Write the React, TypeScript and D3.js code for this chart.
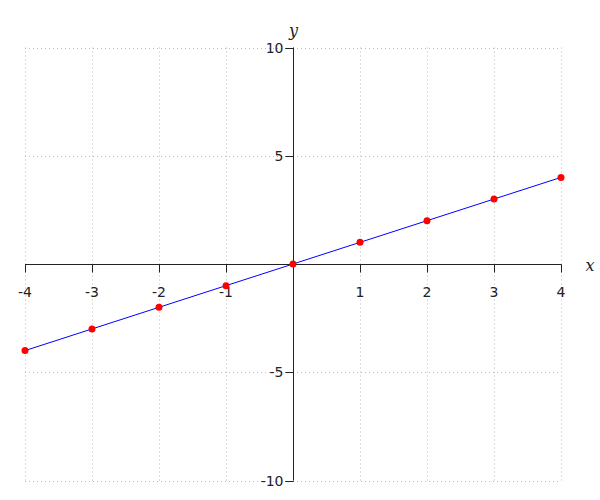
import React from "react";
import * as d3 from "d3";

const xValues = [-4, -3, -2, -1, 0, 1, 2, 3, 4];
const yValues = [-4, -3, -2, -1, 0, 1, 2, 3, 4];
const xTicks = [-4, -3, -2, -1, 1, 2, 3, 4];
const xGrid = [-4, -3, -2, -1, 0, 1, 2, 3, 4];
const yTicks = [-10, -5, 5, 10];
const yGrid = [-10, -5, 0, 5, 10];

export default function App() {
  const W = 600, H = 500;
  const x = d3.scaleLinear().domain([-4, 4]).range([25, 561]);
  const y = d3.scaleLinear().domain([-10, 10]).range([480.5, 47.5]);
  const x0 = Math.round(x(0)) + 0.5;
  const y0 = Math.round(y(0)) + 0.5;
  const pts = xValues.map((v, i) => [v, yValues[i]] as [number, number]);
  const line = d3.line<[number, number]>().x(d => x(d[0])).y(d => y(d[1]));
  const font = "'DejaVu Sans', sans-serif";
  return (
    <svg width={W} height={H} style={{ position: "fixed", left: 0, top: 0, background: "#fff" }}>
      <g stroke="#bbb" strokeWidth={1} strokeDasharray="1,3">
        {xGrid.map(v => (
          <line key={"gx" + v} x1={Math.round(x(v)) + 0.5} x2={Math.round(x(v)) + 0.5} y1={y(10)} y2={y(-10)} />
        ))}
        {yGrid.map(v => (
          <line key={"gy" + v} x1={x(-4)} x2={x(4)} y1={Math.round(y(v)) + 0.5} y2={Math.round(y(v)) + 0.5} />
        ))}
      </g>
      <g stroke="#222" strokeWidth={1}>
        <line x1={x(-4)} x2={x(4) + 0.5} y1={y0} y2={y0} />
        <line x1={x0} x2={x0} y1={y(10)} y2={y(-10)} />
        {xTicks.map(v => (
          <line key={"tx" + v} x1={Math.round(x(v)) + 0.5} x2={Math.round(x(v)) + 0.5} y1={y0} y2={y0 + 8} />
        ))}
        {yTicks.concat([10, -10]).map(v => (
          <line key={"ty" + v} x1={x0 - 8} x2={x0} y1={Math.round(y(v)) + 0.5} y2={Math.round(y(v)) + 0.5} />
        ))}
      </g>
      <g fontFamily={font} fontSize={14} fill="#222">
        {xTicks.map(v => (
          <text key={"lx" + v} x={x(v)} y={y0 + 32} textAnchor="middle">{v}</text>
        ))}
        {yTicks.map(v => (
          <text key={"ly" + v} x={x0 - 10} y={y(v) + 5} textAnchor="end">{v}</text>
        ))}
      </g>
      <text x={590} y={271} fontFamily="'DejaVu Serif', serif" fontStyle="italic" fontSize={16} fill="#222" textAnchor="middle">x</text>
      <text x={x0} y={36} fontFamily="'DejaVu Serif', serif" fontStyle="italic" fontSize={16} fill="#222" textAnchor="middle">y</text>
      <path d={line(pts) || ""} fill="none" stroke="#00f" strokeWidth={1} />
      {pts.map((p, i) => (
        <circle key={"c" + i} cx={x(p[0])} cy={y(p[1])} r={3.5} fill="#f00" />
      ))}
    </svg>
  );
}
